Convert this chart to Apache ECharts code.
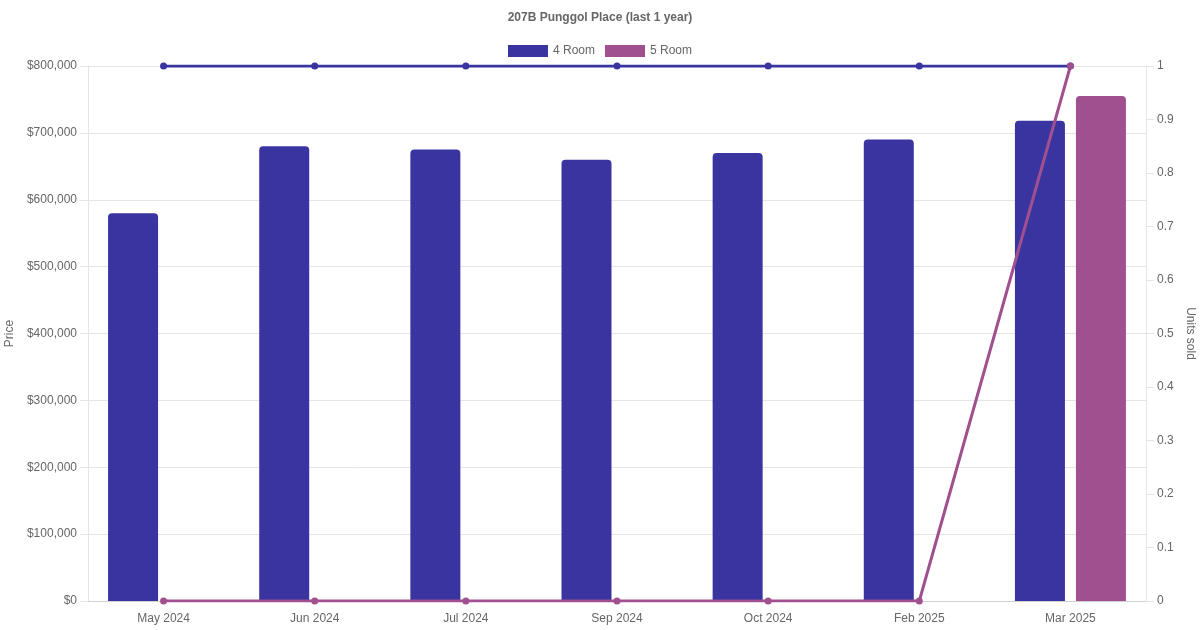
<!DOCTYPE html>
<html>
<head>
<meta charset="utf-8">
<script src="https://cdn.jsdelivr.net/npm/echarts@6/dist/echarts.min.js"></script>
<style>
  html, body { margin: 0; padding: 0; background: #fff; }
  #chart { width: 1200px; height: 630px; }
</style>
</head>
<body>
<div id="chart"></div>
<script>
// data
const months = ['May 2024', 'Jun 2024', 'Jul 2024', 'Sep 2024', 'Oct 2024', 'Feb 2025', 'Mar 2025'];
const price4Room = [580000, 680000, 675000, 660000, 670000, 690000, 718000];
const price5Room = [0, 0, 0, 0, 0, 0, 755000];
const units4Room = [1, 1, 1, 1, 1, 1, 1];
const units5Room = [0, 0, 0, 0, 0, 0, 1];

const blue = '#3934a0';
const purple = '#a0508f';
const textColor = '#666';
const gridColor = '#e5e5e5';
const font = 'Liberation Sans, Arial, Helvetica, sans-serif';

const chart = echarts.init(document.getElementById('chart'));

const option = {
  animation: false,
  textStyle: { fontFamily: font },
  title: {
    text: '207B Punggol Place (last 1 year)',
    left: 'center',
    top: 7,
    textStyle: { fontSize: 12, fontWeight: 'bold', color: textColor, fontFamily: font }
  },
  legend: {
    top: 40,
    left: 'center',
    icon: 'rect',
    itemWidth: 40,
    itemHeight: 12,
    itemGap: 10,
    textStyle: { fontSize: 12, color: textColor, fontFamily: font },
    data: ['4 Room', '5 Room']
  },
  grid: { left: 88, right: 54, top: 66, bottom: 29, containLabel: false, outerBoundsMode: 'none' },
  xAxis: {
    type: 'category',
    data: months,
    boundaryGap: true,
    axisLine: { lineStyle: { color: '#d0d0d0' } },
    axisTick: { show: false },
    axisLabel: { color: textColor, fontSize: 12, margin: 12 }
  },
  yAxis: [
    {
      type: 'value',
      min: 0,
      max: 800000,
      interval: 100000,
      name: 'Price',
      nameLocation: 'middle',
      nameGap: 67,
      nameRotate: 90,
      nameTextStyle: { color: textColor, fontSize: 12 },
      axisLine: { show: true, lineStyle: { color: gridColor } },
      axisTick: { show: true, length: 8, lineStyle: { color: gridColor } },
      splitLine: { lineStyle: { color: gridColor } },
      axisLabel: {
        color: textColor,
        fontSize: 12,
        margin: 11,
        formatter: v => '$' + v.toLocaleString('en-US')
      }
    },
    {
      type: 'value',
      min: 0,
      max: 1,
      interval: 0.1,
      position: 'right',
      name: 'Units sold',
      nameLocation: 'middle',
      nameGap: 33,
      nameRotate: -90,
      nameTextStyle: { color: textColor, fontSize: 12 },
      axisLine: { show: true, lineStyle: { color: gridColor } },
      axisTick: { show: true, length: 8, lineStyle: { color: gridColor } },
      splitLine: { show: false },
      axisLabel: {
        color: textColor,
        fontSize: 12,
        margin: 11,
        formatter: v => String(Math.round(v * 10) / 10)
      }
    }
  ],
  series: [
    {
      name: '4 Room',
      type: 'bar',
      data: price4Room,
      barWidth: 50,
      barGap: '22%',
      itemStyle: { color: blue, borderRadius: [4, 4, 0, 0] }
    },
    {
      name: '5 Room',
      type: 'bar',
      data: price5Room,
      barWidth: 50,
      barGap: '22%',
      itemStyle: { color: purple, borderRadius: [4, 4, 0, 0] }
    },
    {
      name: '4 Room',
      type: 'line',
      yAxisIndex: 1,
      data: units4Room,
      symbol: 'circle',
      symbolSize: 7,
      lineStyle: { color: blue, width: 3 },
      itemStyle: { color: blue }
    },
    {
      name: '5 Room',
      type: 'line',
      yAxisIndex: 1,
      data: units5Room,
      symbol: 'circle',
      symbolSize: 7,
      lineStyle: { color: purple, width: 3 },
      itemStyle: { color: purple }
    }
  ]
};

chart.setOption(option);
</script>
</body>
</html>
